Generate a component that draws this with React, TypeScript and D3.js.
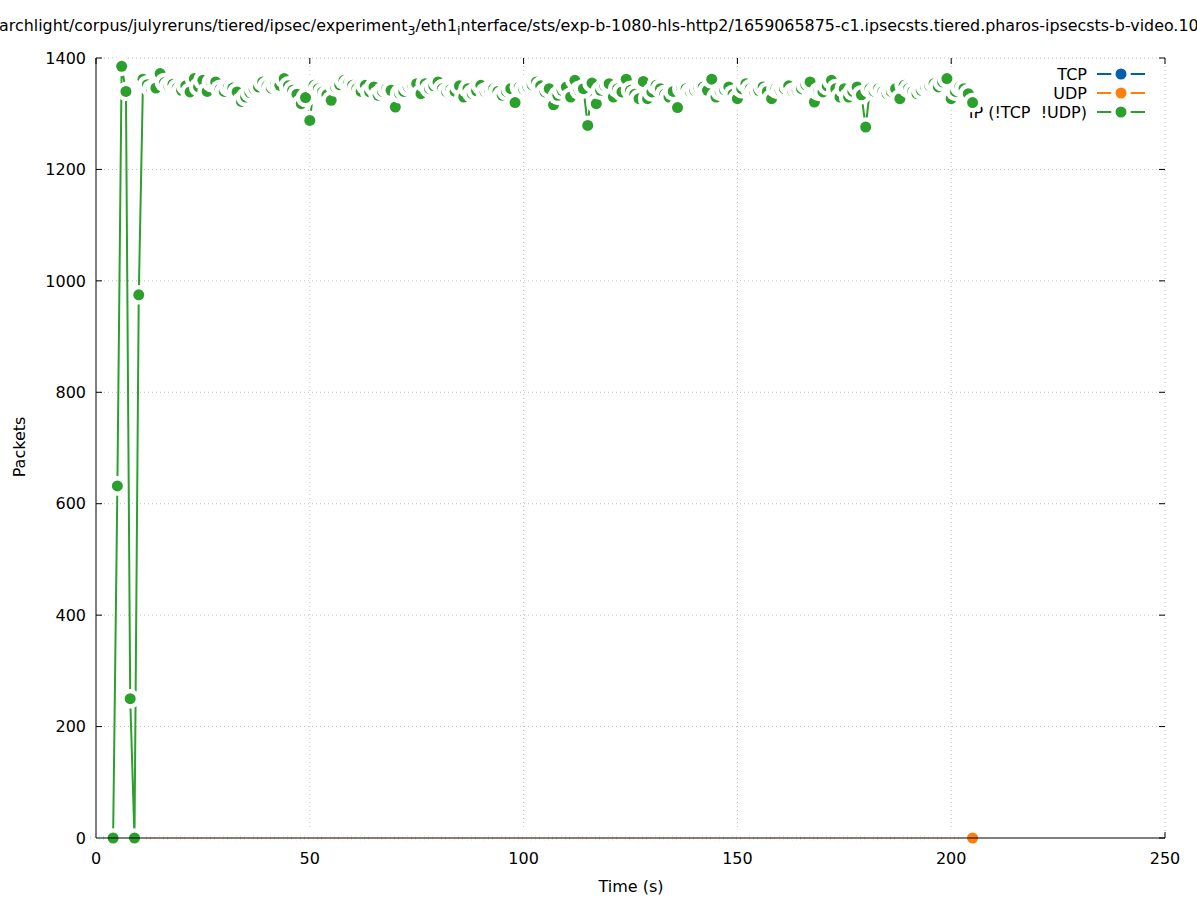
import * as d3 from 'd3';

// packets per 1 s bin, index = time in seconds
const xTicks = [0, 50, 100, 150, 200, 250];
const yTicks = [0, 200, 400, 600, 800, 1000, 1200, 1400];

const seriesNames = ['TCP', 'UDP', 'IP (!TCP  !UDP)'];
const seriesColors = ['#0060ad', '#ff7f0e', '#2ca02c'];

const tcpPackets: number[] = [];

const udpPackets = [
  0, 0, 0, 0, 0, 0, 0, 0, 0, 0, 0, 0, 0, 0, 0, 0, 0, 0, 0, 0,
  0, 0, 0, 0, 0, 0, 0, 0, 0, 0, 0, 0, 0, 0, 0, 0, 0, 0, 0, 0,
  0, 0, 0, 0, 0, 0, 0, 0, 0, 0, 0, 0, 0, 0, 0, 0, 0, 0, 0, 0,
  0, 0, 0, 0, 0, 0, 0, 0, 0, 0, 0, 0, 0, 0, 0, 0, 0, 0, 0, 0,
  0, 0, 0, 0, 0, 0, 0, 0, 0, 0, 0, 0, 0, 0, 0, 0, 0, 0, 0, 0,
  0, 0, 0, 0, 0, 0, 0, 0, 0, 0, 0, 0, 0, 0, 0, 0, 0, 0, 0, 0,
  0, 0, 0, 0, 0, 0, 0, 0, 0, 0, 0, 0, 0, 0, 0, 0, 0, 0, 0, 0,
  0, 0, 0, 0, 0, 0, 0, 0, 0, 0, 0, 0, 0, 0, 0, 0, 0, 0, 0, 0,
  0, 0, 0, 0, 0, 0, 0, 0, 0, 0, 0, 0, 0, 0, 0, 0, 0, 0, 0, 0,
  0, 0, 0, 0, 0, 0, 0, 0, 0, 0, 0, 0, 0, 0, 0, 0, 0, 0, 0, 0,
  0, 0, 0, 0, 0, 0,
];

const ipPackets = [
  0, 0, 0, 0, 0, 632, 1385, 1340, 250, 0,
  975, 1362, 1352, 1344, 1346, 1372, 1356, 1350, 1353, 1346,
  1342, 1350, 1339, 1363, 1348, 1360, 1340, 1356, 1357, 1344,
  1340, 1348, 1346, 1339, 1322, 1330, 1338, 1344, 1348, 1357,
  1350, 1346, 1352, 1351, 1363, 1350, 1342, 1335, 1318, 1329,
  1288, 1351, 1345, 1339, 1334, 1324, 1348, 1352, 1360, 1354,
  1351, 1345, 1340, 1351, 1339, 1348, 1333, 1340, 1345, 1342,
  1312, 1336, 1340, 1348, 1352, 1354, 1336, 1354, 1345, 1350,
  1357, 1345, 1339, 1344, 1340, 1350, 1330, 1345, 1336, 1341,
  1351, 1339, 1343, 1345, 1340, 1333, 1340, 1345, 1320, 1348,
  1344, 1348, 1352, 1357, 1350, 1339, 1345, 1316, 1333, 1342,
  1348, 1330, 1360, 1342, 1345, 1279, 1355, 1318, 1342, 1350,
  1354, 1330, 1345, 1339, 1362, 1342, 1335, 1327, 1358, 1327,
  1339, 1351, 1345, 1335, 1330, 1340, 1311, 1345, 1345, 1339,
  1342, 1346, 1348, 1342, 1362, 1330, 1340, 1343, 1348, 1335,
  1327, 1345, 1354, 1345, 1340, 1342, 1348, 1340, 1327, 1345,
  1342, 1345, 1350, 1339, 1342, 1345, 1352, 1357, 1321, 1340,
  1339, 1350, 1360, 1345, 1330, 1345, 1330, 1340, 1348, 1334,
  1276, 1345, 1340, 1345, 1340, 1336, 1340, 1345, 1327, 1351,
  1345, 1340, 1336, 1342, 1348, 1350, 1354, 1348, 1357, 1363,
  1327, 1340, 1348, 1345, 1336, 1320,
];

const allSeries = [tcpPackets, udpPackets, ipPackets];

const width = 1197;
const height = 900;
const left = 96;
const right = 1165;
const top = 58;
const bottom = 838;
const dotR = 5.5;
const haloR = 9.8;
const font = 'DejaVu Sans';

export default function App() {
  const x = d3.scaleLinear().domain([0, 250]).range([left, right]);
  const y = d3.scaleLinear().domain([0, 1400]).range([bottom, top]);
  const line = d3.line<number>().x((_, i) => x(i)).y((d) => y(d));

  return (
    <div style={{ position: 'absolute', left: 0, top: 0 }}>
      <svg width={width} height={height} style={{ display: 'block', background: '#fff' }} fontFamily={font} fontSize={16}>
        <rect width={width} height={height} fill="#fff" />

        {/* grid */}
        {yTicks.filter((t) => t > 0).map((t) => (
          <line key={'gy' + t} x1={left} x2={right} y1={y(t)} y2={y(t)} stroke="#c0c0c0" strokeDasharray="1,3" />
        ))}
        {xTicks.filter((t) => t > 0).map((t) => (
          <line key={'gx' + t} x1={x(t)} x2={x(t)} y1={top} y2={bottom} stroke="#c0c0c0" strokeDasharray="1,3" />
        ))}

        {/* ticks, mirrored */}
        {yTicks.map((t) => (
          <g key={'ty' + t}>
            <line x1={left} x2={left + 6} y1={y(t)} y2={y(t)} stroke="#000" />
            <line x1={right} x2={right - 6} y1={y(t)} y2={y(t)} stroke="#000" />
            <text x={left - 10} y={y(t)} dy="0.36em" textAnchor="end" fill="#000">{t}</text>
          </g>
        ))}
        {xTicks.map((t) => (
          <g key={'tx' + t}>
            <line x1={x(t)} x2={x(t)} y1={bottom} y2={bottom - 6} stroke="#000" />
            <line x1={x(t)} x2={x(t)} y1={top} y2={top + 6} stroke="#000" />
            <text x={x(t)} y={bottom + 26} textAnchor="middle" fill="#000">{t}</text>
          </g>
        ))}

        {/* title, clipped by the canvas like the original */}
        <text x={-1} y={31} fill="#000" fontSize={15.9} style={{ whiteSpace: 'pre' }}>
          archlight/corpus/julyreruns/tiered/ipsec/experiment
          <tspan dy={4} fontSize={12.7}>3</tspan>
          <tspan dy={-4}>/eth1</tspan>
          <tspan dy={4} fontSize={12.7}>i</tspan>
          <tspan dy={-4}>nterface/sts/exp-b-1080-hls-http2/1659065875-c1.ipsecsts.tiered.pharos-ipsecsts-b-video.1080p</tspan>
        </text>

        <text x={631} y={892} textAnchor="middle" fill="#000">Time (s)</text>
        <text transform="translate(25,447) rotate(-90)" textAnchor="middle" fill="#000">Packets</text>

        {/* series: key entry then line, then halo + dot per point */}
        {allSeries.map((data, s) => {
          const ky = 74 + s * 19;
          const c = seriesColors[s];
          return (
            <g key={'s' + s}>
              <text x={1087} y={ky + 5.5} textAnchor="end" fill="#000" style={{ whiteSpace: 'pre' }}>{seriesNames[s]}</text>
              <line x1={1097} x2={1145} y1={ky} y2={ky} stroke={c} strokeWidth={2} />
              <circle cx={1121} cy={ky} r={haloR} fill="#fff" />
              <circle cx={1121} cy={ky} r={dotR} fill={c} />
              {data.length > 0 && <path d={line(data) || ''} fill="none" stroke={c} strokeWidth={2} />}
              {data.map((v, i) => (
                <g key={i}>
                  <circle cx={x(i)} cy={y(v)} r={haloR} fill="#fff" />
                  <circle cx={x(i)} cy={y(v)} r={dotR} fill={c} />
                </g>
              ))}
            </g>
          );
        })}

        {/* border (left + bottom) */}
        <line x1={left} x2={left} y1={top} y2={bottom} stroke="#000" />
        <line x1={left} x2={right} y1={bottom} y2={bottom} stroke="#000" />
      </svg>
    </div>
  );
}
